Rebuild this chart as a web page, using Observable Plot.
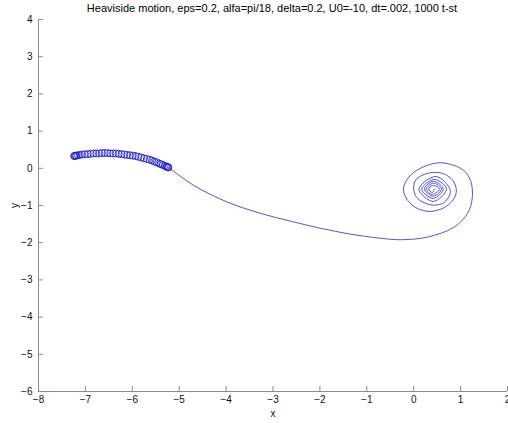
<!DOCTYPE html>
<html>
<head>
<meta charset="utf-8">
<script src="https://cdn.jsdelivr.net/npm/d3@7"></script>
<script src="https://cdn.jsdelivr.net/npm/@observablehq/plot@0.6"></script>
<style>
  body { margin: 0; background: #fff; width: 508px; height: 423px; overflow: hidden; }
  #title { font-family: "Liberation Sans", Arial, sans-serif; font-size: 11px; height: 15px; line-height: 16px;
           padding-left: 36px; text-align: center; color: #000; white-space: nowrap; }
</style>
</head>
<body>
<div id="title">Heaviside motion, eps=0.2, alfa=pi/18, delta=0.2, U0=-10, dt=.002, 1000 t-st</div>
<div id="chart"></div>
<script>
// Tick values
const xTicks = [-8, -7, -6, -5, -4, -3, -2, -1, 0, 1, 2];
const yTicks = [-6, -5, -4, -3, -2, -1, 0, 1, 2, 3, 4];

// Circles (early positions)
const circleX = [-7.24,-7.23,-7.21,-7.19,-7.16,-7.12,-7.07,-7.01,-6.95,-6.89,-6.83,-6.77,-6.71,-6.65,-6.59,-6.53,-6.47,-6.41,-6.35,-6.29,-6.23,-6.17,-6.11,-6.05,-5.99,-5.93,-5.87,-5.81,-5.75,-5.69,-5.63,-5.58,-5.53,-5.48,-5.43,-5.39,-5.35,-5.31,-5.28,-5.26,-5.24,-5.23];
const circleY = [0.33,0.33,0.34,0.34,0.35,0.36,0.37,0.38,0.38,0.39,0.40,0.40,0.40,0.41,0.41,0.41,0.40,0.40,0.40,0.39,0.38,0.37,0.36,0.35,0.34,0.33,0.31,0.29,0.27,0.25,0.23,0.21,0.18,0.16,0.13,0.11,0.09,0.07,0.05,0.04,0.03,0.02];

// Trajectory line
const lineX = [-5.22,-4.69,-3.97,-3.27,-2.63,-1.99,-1.35,-0.71,-0.28,0.29,0.85,1.15,1.25,1.21,1.06,0.85,0.57,0.29,0.00,-0.15,-0.22,-0.13,0.08,0.36,0.66,0.85,0.91,0.83,0.66,0.47,0.23,0.04,0.00,0.06,0.25,0.44,0.66,0.78,0.47,0.11,0.42,0.70,0.44,0.17,0.42,0.63,0.42,0.23,0.42,0.59,0.42,0.27,0.40,0.55,0.40,0.32,0.40,0.44];
const lineY = [0.02,-0.46,-0.91,-1.21,-1.42,-1.61,-1.77,-1.88,-1.92,-1.85,-1.59,-1.21,-0.78,-0.32,-0.05,0.08,0.15,0.08,-0.11,-0.32,-0.56,-0.86,-1.08,-1.16,-1.05,-0.83,-0.59,-0.32,-0.16,-0.11,-0.16,-0.32,-0.54,-0.78,-0.94,-0.99,-0.91,-0.59,-0.22,-0.56,-0.89,-0.56,-0.30,-0.56,-0.81,-0.56,-0.35,-0.56,-0.75,-0.56,-0.40,-0.56,-0.70,-0.56,-0.46,-0.56,-0.65,-0.56];

const circles = circleX.map((x, i) => ({x, y: circleY[i]}));
const line = lineX.map((x, i) => ({x, y: lineY[i]}));

const axisColor = "#8c8c8c";
const W = 508, H = 408, mT = 4, mB = 32, mL = 38, mR = 1;
const frameW = W - mL - mR, frameH = H - mT - mB, tickLen = 5;

const chart = Plot.plot({
  width: W,
  height: H,
  marginTop: mT,
  marginBottom: mB,
  marginLeft: mL,
  marginRight: mR,
  style: {fontFamily: "Liberation Sans, Arial, sans-serif", fontSize: "10px", color: "#111", background: "white", overflow: "visible"},
  x: {domain: [-8, 2], ticks: xTicks},
  y: {domain: [-6, 4], ticks: yTicks},
  marks: [
    Plot.ruleY([-6], {stroke: axisColor}),
    Plot.ruleX([-8], {stroke: axisColor}),
    Plot.tickX(xTicks.filter(d => d > -8), {x: d => d, stroke: axisColor, insetTop: frameH - tickLen}),
    Plot.tickY(yTicks.filter(d => d > -6), {y: d => d, stroke: axisColor, insetRight: frameW - tickLen}),
    Plot.axisX(xTicks, {tickSize: 0, tickPadding: 4, label: "x", labelAnchor: "center", labelArrow: false, labelOffset: 25, fill: "#111"}),
    Plot.axisY(yTicks, {tickSize: 0, tickPadding: 6, label: "y", labelAnchor: "center", labelArrow: false, labelOffset: 28, fill: "#111"}),
    Plot.line(line, {x: "x", y: "y", stroke: "#2a2ab8", strokeWidth: 0.8, curve: "catmull-rom"}),
    Plot.dot(circles, {x: "x", y: "y", r: 3.5, stroke: "#1a1ac0", strokeWidth: 0.8, fill: "none"})
  ]
});
document.getElementById("chart").appendChild(chart);
</script>
</body>
</html>
